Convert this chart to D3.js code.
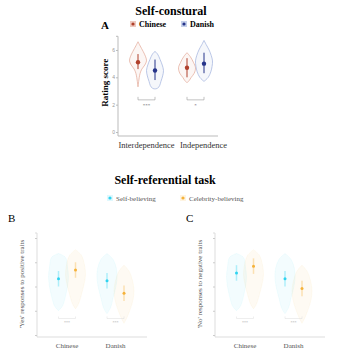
<!DOCTYPE html>
<html>
<head>
<meta charset="utf-8">
<script src="https://cdn.jsdelivr.net/npm/d3@7"></script>
<style>
  body { margin: 0; background: #fff; }
  svg { display: block; font-family: 'Liberation Serif', 'DejaVu Serif', serif; }
</style>
</head>
<body>
<div id="chart"></div>
<script>
// ── data: panel A (self-construal) ────────────────────────────────
const constructs = ['Interdependence', 'Independence']
const nations = ['Chinese', 'Danish']
const chineseMeans = [5.1, 4.7]
const danishMeans = [4.5, 5.0]
const chineseErr = [[4.6, 5.7], [4.0, 5.4]]
const danishErr = [[3.8, 5.3], [4.3, 5.8]]
const aTicks = [0, 2, 4, 6]
const aSig = ['***', '*']
// violin outlines: [value, relative density]
const violinChineseInter = [[6.6, 0], [6.3, 0.25], [5.9, 0.6], [5.5, 0.9], [5.2, 1.0], [4.9, 0.8], [4.6, 0.45], [4.3, 0.25], [4.0, 0.15], [3.7, 0.08], [3.3, 0]]
const violinDanishInter = [[5.9, 0], [5.7, 0.3], [5.3, 0.6], [4.9, 0.85], [4.5, 1.0], [4.1, 0.9], [3.7, 0.7], [3.4, 0.55], [3.2, 0.3], [3.15, 0]]
const violinChineseIndep = [[5.8, 0], [5.5, 0.4], [5.1, 0.75], [4.7, 1.0], [4.3, 0.85], [4.0, 0.5], [3.8, 0.3], [3.6, 0]]
const violinDanishIndep = [[6.7, 0], [6.4, 0.25], [6.0, 0.6], [5.6, 0.85], [5.2, 1.0], [4.8, 0.95], [4.4, 0.8], [4.0, 0.5], [3.7, 0]]

// ── data: panels B & C (self-referential task) ───────────────────
const conditions = ['Self-believing', 'Celebrity-believing']
const rTicks = [0, 0.25, 0.5, 0.75, 1]
const selfYes = [0.58, 0.56]
const celebYes = [0.67, 0.43]
const selfNo = [0.64, 0.58]
const celebNo = [0.71, 0.48]
const violinSelfChinese = [[0.84, 0], [0.8, 0.7], [0.7, 0.9], [0.6, 1.0], [0.5, 0.9], [0.4, 0.7], [0.3, 0.4], [0.25, 0]]
const violinCelebChinese = [[0.88, 0], [0.82, 0.6], [0.72, 0.9], [0.62, 1.0], [0.52, 0.85], [0.42, 0.6], [0.32, 0.3], [0.27, 0]]
const violinSelfDanish = [[0.84, 0], [0.78, 0.6], [0.68, 0.95], [0.58, 1.0], [0.48, 0.85], [0.38, 0.6], [0.28, 0.35], [0.22, 0]]
const violinCelebDanish = [[0.72, 0], [0.66, 0.5], [0.56, 0.85], [0.46, 1.0], [0.36, 0.9], [0.26, 0.6], [0.18, 0.3], [0.12, 0]]

const COL = { Chinese: '#b0402c', Danish: '#26348a' }
const VCOL = { Chinese: '#e3a796', Danish: '#9fb0dc' }
const RCOL = { 'Self-believing': '#2fd3f0', 'Celebrity-believing': '#f5b23a' }

const svg = d3.select('#chart').append('svg').attr('width', 346).attr('height', 355)

// ── panel A ──────────────────────────────────────────────────────
svg.append('text').attr('x', 171).attr('y', 15).attr('text-anchor', 'middle')
  .style('font-weight', 'bold').style('font-size', '12px').text('Self-constural')
svg.append('text').attr('x', 101).attr('y', 29)
  .style('font-weight', 'bold').style('font-size', '11px').text('A')

const legA = svg.append('g').attr('transform', 'translate(130,21)')
nations.forEach((n, i) => {
  const g = legA.append('g').attr('transform', `translate(${i * 51},0)`)
  g.append('rect').attr('x', 0).attr('y', 0).attr('width', 6).attr('height', 6)
    .attr('fill', VCOL[n]).attr('opacity', 0.6)
  g.append('circle').attr('cx', 3).attr('cy', 3).attr('r', 1.6).attr('fill', COL[n])
  g.append('text').attr('x', 9).attr('y', 6).style('font-weight', 'bold').style('font-size', '8px').text(n)
})

const yA = d3.scaleLinear().domain([0, 7]).range([132, 36.3])
const xA = d3.scalePoint().domain(constructs).range([146.5, 195.5])
const dodgeA = d3.scalePoint().domain(nations).range([-8.5, 8.5])
const wA = d3.scaleLinear().domain([0, 1]).range([0, 8.5])

const gA = svg.append('g')
gA.append('g').attr('transform', 'translate(118,0)')
  .call(d3.axisLeft(yA).tickValues(aTicks).tickSize(2).tickFormat(d3.format('d')))
  .call(g => g.select('.domain').attr('stroke', '#bbb').attr('d', `M-2,${yA(7)}H0V${yA(0) + 4}`))
  .call(g => g.selectAll('.tick line').attr('stroke', '#bbb'))
  .call(g => g.selectAll('text').attr('fill', '#999').style('font-size', '5px').attr('x', -3))
gA.append('line').attr('x1', 118).attr('x2', 218).attr('y1', yA(0) + 4).attr('y2', yA(0) + 4)
  .attr('stroke', '#bbb')

gA.append('text').attr('transform', 'rotate(-90)').attr('x', -yA(3.6)).attr('y', 108)
  .attr('text-anchor', 'middle').style('font-weight', 'bold').style('font-size', '9px').text('Rating score')

constructs.forEach((c, i) => {
  gA.append('text').attr('x', xA(c) + (i === 0 ? 0 : 8)).attr('y', 148).attr('text-anchor', 'middle')
    .style('font-size', '8.5px').attr('fill', '#333').text(c)
})

const violinsA = [
  [constructs[0], 'Chinese', violinChineseInter, chineseMeans[0], chineseErr[0]],
  [constructs[0], 'Danish', violinDanishInter, danishMeans[0], danishErr[0]],
  [constructs[1], 'Chinese', violinChineseIndep, chineseMeans[1], chineseErr[1]],
  [constructs[1], 'Danish', violinDanishIndep, danishMeans[1], danishErr[1]],
]
violinsA.forEach(([c, n, prof, m, err]) => {
  const cx = xA(c) + dodgeA(n)
  const area = d3.area()
    .x0(d => cx - wA(d[1])).x1(d => cx + wA(d[1]))
    .y(d => yA(d[0])).curve(d3.curveCatmullRom)
  gA.append('path').attr('d', area(prof))
    .attr('fill', VCOL[n]).attr('fill-opacity', 0.1)
    .attr('stroke', VCOL[n]).attr('stroke-width', 0.7)
  gA.append('line').attr('x1', cx).attr('x2', cx).attr('y1', yA(err[0])).attr('y2', yA(err[1]))
    .attr('stroke', COL[n]).attr('stroke-width', 1)
  gA.append('circle').attr('cx', cx).attr('cy', yA(m)).attr('r', 2.2).attr('fill', COL[n])
})

constructs.forEach((c, i) => {
  const x0 = xA(c) + dodgeA('Chinese'), x1 = xA(c) + dodgeA('Danish')
  const yb = yA(2.35)
  gA.append('path').attr('d', `M${x0},${yb - 3}V${yb}H${x1}V${yb - 3}`)
    .attr('fill', 'none').attr('stroke', '#999').attr('stroke-width', 0.6)
  gA.append('text').attr('x', (x0 + x1) / 2).attr('y', yb + 7).attr('text-anchor', 'middle')
    .style('font-size', '5px').attr('fill', '#666').text(aSig[i])
})

// ── panels B & C ─────────────────────────────────────────────────
svg.append('text').attr('x', 165).attr('y', 184).attr('text-anchor', 'middle')
  .style('font-weight', 'bold').style('font-size', '12px').text('Self-referential task')

const legR = svg.append('g').attr('transform', 'translate(107,195)')
conditions.forEach((c, i) => {
  const g = legR.append('g').attr('transform', `translate(${i * 73},0)`)
  g.append('rect').attr('x', 0).attr('y', 0).attr('width', 6).attr('height', 6)
    .attr('fill', RCOL[c]).attr('opacity', 0.15)
  g.append('circle').attr('cx', 3).attr('cy', 3).attr('r', 1.6).attr('fill', RCOL[c])
  g.append('text').attr('x', 9).attr('y', 5.5).style('font-size', '7px').attr('fill', '#555').text(c)
})

const violinsR = [
  ['Chinese', 'Self-believing', violinSelfChinese, 0],
  ['Chinese', 'Celebrity-believing', violinCelebChinese, 1],
  ['Danish', 'Self-believing', violinSelfDanish, 0],
  ['Danish', 'Celebrity-believing', violinCelebDanish, 1],
]

function drawPanel(left, letter, letterX, yLabel, selfVals, celebVals) {
  const y = d3.scaleLinear().domain([0, 1]).range([335, 238])
  const x = d3.scalePoint().domain(nations).range([left + 30, left + 78.5])
  const dodge = d3.scalePoint().domain(conditions).range([-8.5, 8.5])
  const w = d3.scaleLinear().domain([0, 1]).range([0, 10])
  const g = svg.append('g')

  svg.append('text').attr('x', letterX).attr('y', 222).style('font-size', '11px').text(letter)

  g.append('g').attr('transform', `translate(${left},0)`)
    .call(d3.axisLeft(y).tickValues(rTicks).tickSize(2).tickFormat(''))
    .call(a => a.select('.domain').attr('stroke', '#ddd').attr('d', `M-2,233H0V337`))
    .call(a => a.selectAll('.tick line').attr('stroke', '#ccc'))
  g.append('line').attr('x1', left).attr('x2', left + 110).attr('y1', 337).attr('y2', 337).attr('stroke', '#ddd')

  g.append('text').attr('transform', 'rotate(-90)').attr('x', -284).attr('y', left - 13)
    .attr('text-anchor', 'middle').style('font-size', '7px').attr('fill', '#555').text(yLabel)

  nations.forEach(n => {
    g.append('text').attr('x', x(n)).attr('y', 348).attr('text-anchor', 'middle')
      .style('font-size', '7px').attr('fill', '#555').text(n)
  })

  violinsR.forEach(([n, c, prof, k]) => {
    const cx = x(n) + dodge(c)
    const m = (k === 0 ? selfVals : celebVals)[nations.indexOf(n)]
    const area = d3.area()
      .x0(d => cx - w(d[1])).x1(d => cx + w(d[1]))
      .y(d => y(d[0])).curve(d3.curveCatmullRom)
    g.append('path').attr('d', area(prof))
      .attr('fill', RCOL[c]).attr('fill-opacity', 0.06)
      .attr('stroke', RCOL[c]).attr('stroke-opacity', 0.07).attr('stroke-width', 0.8)
    g.append('line').attr('x1', cx).attr('x2', cx).attr('y1', y(m - 0.08)).attr('y2', y(m + 0.08))
      .attr('stroke', RCOL[c]).attr('stroke-opacity', 0.35).attr('stroke-width', 1.5)
    g.append('circle').attr('cx', cx).attr('cy', y(m)).attr('r', 1.5).attr('fill', RCOL[c])
  })

  nations.forEach(n => {
    const x0 = x(n) + dodge('Self-believing'), x1 = x(n) + dodge('Celebrity-believing')
    const yb = y(0.17)
    g.append('path').attr('d', `M${x0},${yb - 2}V${yb}H${x1}V${yb - 2}`)
      .attr('fill', 'none').attr('stroke', '#ddd').attr('stroke-width', 0.5)
    g.append('text').attr('x', (x0 + x1) / 2).attr('y', yb + 5).attr('text-anchor', 'middle')
      .style('font-size', '4px').attr('fill', '#aaa').text('***')
  })
}

drawPanel(37, 'B', 8, "'Yes' responses to positive traits", selfYes, celebYes)
drawPanel(215, 'C', 186, "'No' responses to negative traits", selfNo, celebNo)
</script>
</body>
</html>
